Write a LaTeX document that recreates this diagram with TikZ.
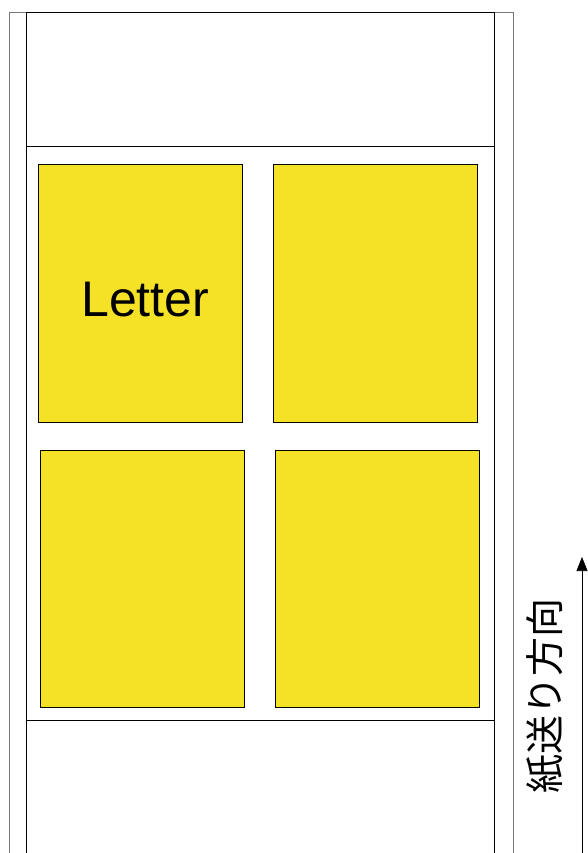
\documentclass[tikz,border=0pt]{standalone}
\usepackage{fontspec}
\setmainfont{Liberation Sans}
\newfontfamily\jafont{Noto Sans CJK JP}
\usetikzlibrary{positioning,arrows.meta}
\definecolor{sheet}{HTML}{F5E227}
\definecolor{rail}{HTML}{777777}
\tikzset{
  page/.style={draw, fill=sheet, minimum width=204pt, minimum height=258pt,
               inner sep=0pt, line width=0.6pt},
  arr/.style={-{Triangle[length=14pt,width=11pt]}, semithick},
}

\begin{document}
\begin{tikzpicture}[x=1pt, y=-1pt]
  \useasboundingbox (0,0) rectangle (587,853);
  % roll edges
  \draw[rail, semithick] (9,853) -- (9,12) -- (513,12) -- (513,853);
  \draw[semithick] (26,853) -- (26,12) -- (494,12) -- (494,853);
  \draw[semithick] (26,146) -- (494,146);
  \draw[semithick] (26,720) -- (494,720);
  % pages
  \node[page, anchor=north west] (p1) at (38,164) {};
  \node[page, anchor=north west] (p2) at (273,164) {};
  \node[page, anchor=north west, minimum height=257pt] (p3) at (40,450) {};
  \node[page, anchor=north west, minimum height=257pt] (p4) at (275,450) {};
  \node[font=\fontsize{50}{52}\selectfont] (lbl) at ([shift={(5,6)}]p1.center) {Letter};
  % feed direction
  \coordinate (feedfrom) at (582,853);
  \coordinate (feedto) at (582,557);
  \draw[arr] (feedfrom) -- (feedto);
  \node[rotate=90, font=\jafont\fontsize{39}{40}\selectfont] (feed) at (545,696) {紙送り方向};
\end{tikzpicture}
\end{document}
